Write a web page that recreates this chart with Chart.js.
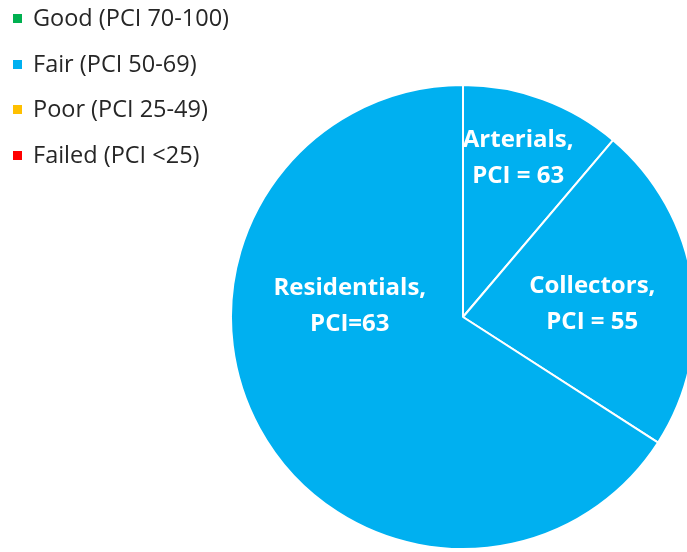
<!DOCTYPE html>
<html>
<head>
<meta charset="utf-8">
<script src="https://cdn.jsdelivr.net/npm/chart.js@4/dist/chart.umd.min.js"></script>
<style>
  html, body { margin: 0; padding: 0; background: #fff; overflow: hidden; }
  #wrap { position: relative; width: 687px; height: 552px; overflow: hidden; }
  #pie { position: absolute; left: 0; top: 0; }
  #legend { position: absolute; left: 13px; top: 0; font-family: "Open Sans", Lato, sans-serif; font-size: 23.5px; color: #262626; }
  #legend .item { position: absolute; left: 0; white-space: nowrap; line-height: 24px; }
  #legend .box { display: inline-block; width: 9px; height: 9px; margin-right: 11px; vertical-align: 3px; }
</style>
</head>
<body>
<div id="wrap">
  <canvas id="pie" width="700" height="552"></canvas>
  <div id="legend"></div>
</div>
<script>
// road classes and their share of the network
const roadClasses = ['Arterials', 'Collectors', 'Residentials'];
const networkShare = [11.2, 22.9, 65.9];
const classPci = [63, 55, 63];
const pciSeparator = [' = ', ' = ', '='];

// condition bands shown in the key
const conditionBands = ['Good (PCI 70-100)', 'Fair (PCI 50-69)', 'Poor (PCI 25-49)', 'Failed (PCI <25)'];
const bandColors = ['#00B050', '#00B0F0', '#FFC000', '#FF0000'];

function bandColor(pci) {
  if (pci >= 70) return bandColors[0];
  if (pci >= 50) return bandColors[1];
  if (pci >= 25) return bandColors[2];
  return bandColors[3];
}

// key
const legend = document.getElementById('legend');
conditionBands.forEach((txt, i) => {
  const row = document.createElement('div');
  row.className = 'item';
  row.style.top = (5 + i * 45.6) + 'px';
  const box = document.createElement('span');
  box.className = 'box';
  box.style.background = bandColors[i];
  row.appendChild(box);
  row.appendChild(document.createTextNode(txt));
  legend.appendChild(row);
});

// slice captions, placed relative to each arc
const sliceCaptions = {
  id: 'sliceCaptions',
  afterDatasetsDraw(chart, args, opts) {
    const ctx = chart.ctx;
    const arcs = chart.getDatasetMeta(0).data;
    ctx.save();
    ctx.fillStyle = '#fff';
    ctx.font = 'bold 24px "Open Sans", Lato, sans-serif';
    ctx.textAlign = 'center';
    ctx.textBaseline = 'middle';
    arcs.forEach((arc, i) => {
      const p = arc.getProps(['x', 'y', 'startAngle', 'endAngle', 'outerRadius'], true);
      const place = opts.placement[i];
      const a = (p.startAngle + p.endAngle) / 2 + place.turn * Math.PI / 180;
      const cx = p.x + Math.cos(a) * p.outerRadius * place.r;
      const cy = p.y + Math.sin(a) * p.outerRadius * place.r;
      const lines = [roadClasses[i] + ',', 'PCI' + pciSeparator[i] + classPci[i]];
      ctx.fillText(lines[0], cx, cy - opts.lineHeight / 2);
      ctx.fillText(lines[1], cx, cy + opts.lineHeight / 2);
    });
    ctx.restore();
  }
};

new Chart(document.getElementById('pie'), {
  type: 'pie',
  data: {
    labels: roadClasses,
    datasets: [{
      data: networkShare,
      backgroundColor: classPci.map(bandColor),
      borderColor: '#fff',
      borderWidth: 2
    }]
  },
  options: {
    responsive: false,
    animation: false,
    devicePixelRatio: 1,
    layout: { padding: { left: 230, right: 4, top: 84, bottom: 2 } },
    plugins: {
      legend: { display: false },
      tooltip: { enabled: false },
      sliceCaptions: {
        lineHeight: 36,
        placement: [
          { turn: -1, r: 0.725 },
          { turn: 2.7, r: 0.56 },
          { turn: 33.9, r: 0.49 }
        ]
      }
    }
  },
  plugins: [sliceCaptions]
});
</script>
</body>
</html>
